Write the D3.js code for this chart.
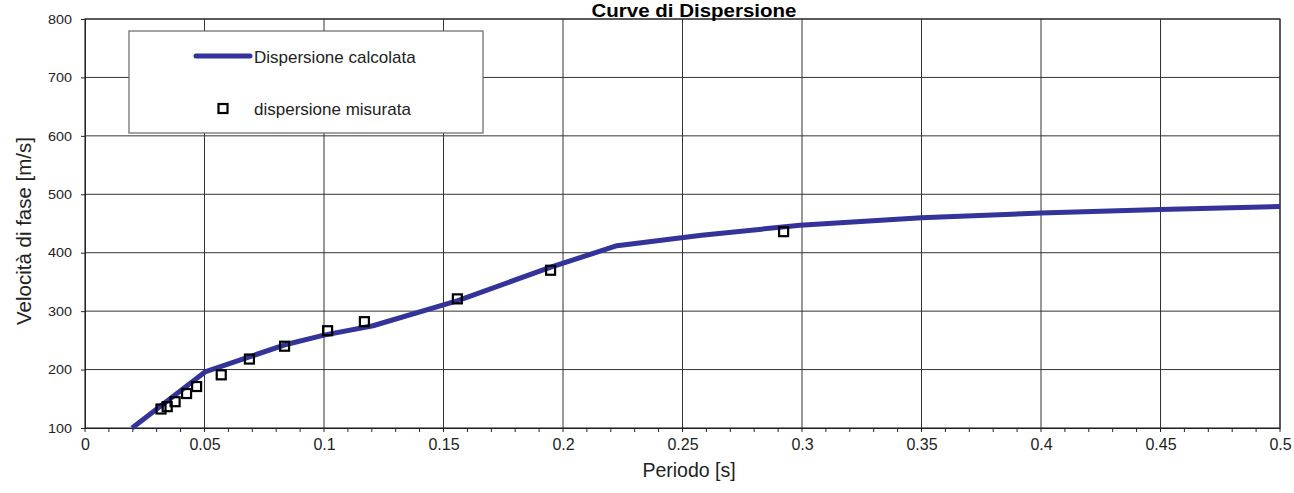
<!DOCTYPE html>
<html><head><meta charset="utf-8">
<script src="https://cdn.jsdelivr.net/npm/d3@7"></script>
<style>body{margin:0;background:#fff}svg{display:block;font-family:"Liberation Sans",Arial,sans-serif}</style>
</head><body><svg id="c" width="1294" height="493"></svg>
<script>
const calcPeriod = [0.0197, 0.0502, 0.0833, 0.1, 0.1205, 0.156, 0.1946, 0.2226, 0.258, 0.2992, 0.35, 0.4, 0.45, 0.5];
const calcVel    = [100, 196, 242, 259, 275, 318, 375, 412, 430, 447, 460, 468, 474, 479];
const measPeriod = [0.0318, 0.0344, 0.0377, 0.0425, 0.0467, 0.0570, 0.0688, 0.0835, 0.1015, 0.1169, 0.1558, 0.1948, 0.2923];
const measVel    = [132.5, 136.5, 145, 159, 171, 191, 218, 240, 266.5, 282, 321, 370, 436];
const xTicks = [0, 0.05, 0.1, 0.15, 0.2, 0.25, 0.3, 0.35, 0.4, 0.45, 0.5];
const yTicks = [100, 200, 300, 400, 500, 600, 700, 800];
const legendLabels = ["Dispersione calcolata", "dispersione misurata"];

const svg = d3.select("#c");
const L = 85, R = 1280, T = 19, B = 428;
const x = d3.scaleLinear().domain([0, 0.5]).range([L, R]);
const y = d3.scaleLinear().domain([100, 800]).range([B, T]);
const lineColor = "#333399";
const ff = "Liberation Sans, Arial, sans-serif";

// grid
svg.append("g").selectAll("line").data(xTicks.slice(1)).join("line")
  .attr("x1", d => x(d)).attr("x2", d => x(d)).attr("y1", T).attr("y2", B)
  .attr("stroke", "#333").attr("stroke-width", 1);
svg.append("g").selectAll("line").data(yTicks.slice(1)).join("line")
  .attr("x1", L).attr("x2", R).attr("y1", d => y(d)).attr("y2", d => y(d))
  .attr("stroke", "#333").attr("stroke-width", 1);
svg.append("rect").attr("x", L).attr("y", T).attr("width", R - L).attr("height", B - T)
  .attr("fill", "none").attr("stroke", "#333").attr("stroke-width", 1.2);

// x axis
const minor = d3.range(0, 0.5001, 0.01);
svg.append("g").selectAll("line").data(minor).join("line")
  .attr("x1", d => x(d)).attr("x2", d => x(d)).attr("y1", B).attr("y2", B + 4)
  .attr("stroke", "#222");
const xa = svg.append("g").attr("transform", `translate(0,${B})`)
  .call(d3.axisBottom(x).tickValues(xTicks).tickFormat(d => d3.format("")(d)).tickSize(0).tickPadding(11));
xa.select(".domain").attr("stroke", "#222");
xa.selectAll("text").attr("font-size", 16).attr("fill", "#222").attr("font-family", ff);

const ya = svg.append("g").attr("transform", `translate(${L},0)`)
  .call(d3.axisLeft(y).tickValues(yTicks).tickSize(4).tickPadding(9));
ya.select(".domain").attr("stroke", "#222");
ya.selectAll("line").attr("stroke", "#222");
ya.selectAll("text").attr("font-size", 13).attr("fill", "#222").attr("font-family", ff)
  .attr("textLength", 24).attr("lengthAdjust", "spacingAndGlyphs");

// titles
svg.append("text").attr("x", 694).attr("y", 16.5).attr("text-anchor", "middle")
  .attr("font-size", 18).attr("font-weight", "bold")
  .attr("textLength", 205).attr("lengthAdjust", "spacingAndGlyphs").text("Curve di Dispersione");
svg.append("text").attr("x", 689).attr("y", 477).attr("text-anchor", "middle")
  .attr("font-size", 19.5).attr("fill", "#222").text("Periodo [s]");
svg.append("text").attr("transform", `translate(31,231) rotate(-90)`)
  .attr("text-anchor", "middle").attr("font-size", 20.5).attr("fill", "#222").text("Velocità di fase [m/s]");

// calculated line
const calc = calcPeriod.map((p, i) => [p, calcVel[i]]);
svg.append("path").datum(calc)
  .attr("d", d3.line().x(d => x(d[0])).y(d => y(d[1])))
  .attr("fill", "none").attr("stroke", lineColor).attr("stroke-width", 5)
  .attr("stroke-linejoin", "round");

// measured squares
const meas = measPeriod.map((p, i) => [p, measVel[i]]);
svg.append("g").selectAll("rect").data(meas).join("rect")
  .attr("x", d => x(d[0]) - 4.5).attr("y", d => y(d[1]) - 4.5)
  .attr("width", 9).attr("height", 9)
  .attr("fill", "none").attr("stroke", "#000").attr("stroke-width", 2.2);

// legend
const lg = svg.append("g");
lg.append("rect").attr("x", 129).attr("y", 31).attr("width", 354).attr("height", 102)
  .attr("fill", "#fff").attr("stroke", "#666").attr("stroke-width", 1.2);
lg.append("line").attr("x1", 196).attr("x2", 250).attr("y1", 56).attr("y2", 56)
  .attr("stroke", lineColor).attr("stroke-width", 5).attr("stroke-linecap", "round");
lg.append("rect").attr("x", 218.5).attr("y", 104).attr("width", 9).attr("height", 9)
  .attr("fill", "none").attr("stroke", "#000").attr("stroke-width", 2.2);
lg.selectAll("text").data(legendLabels).join("text")
  .attr("x", 254).attr("y", (d, i) => i === 0 ? 63 : 115)
  .attr("font-size", 17).attr("fill", "#222").text(d => d);
</script></body></html>
